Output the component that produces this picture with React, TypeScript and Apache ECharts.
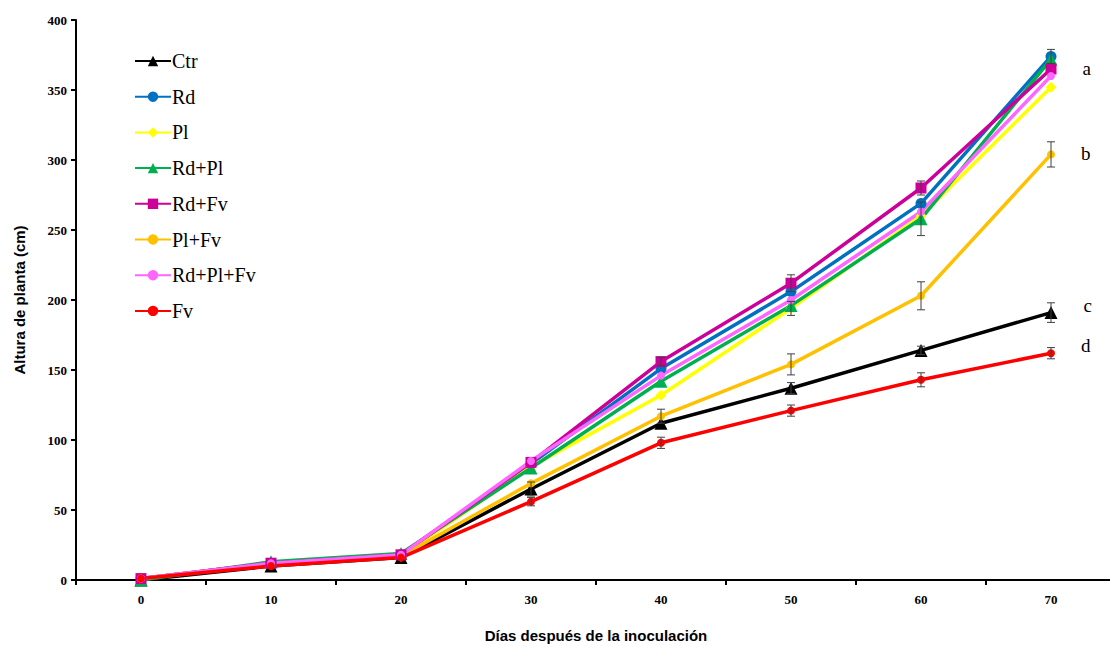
import React, { useEffect, useRef } from "react";
import * as echarts from "echarts";

const days = ["0", "10", "20", "30", "40", "50", "60", "70"];
const seriesNames = ["Ctr", "Rd", "Pl", "Rd+Pl", "Rd+Fv", "Pl+Fv", "Rd+Pl+Fv", "Fv"];

const ctr = [0, 10, 16, 65, 112, 137, 164, 191];
const rd = [1, 12, 18, 83, 151, 206, 269, 374];
const pl = [1, 12, 17, 81, 132, 194, 260, 352];
const rdPl = [0, 13, 19, 80, 142, 196, 258, 372];
const rdFv = [1, 12, 18, 84, 156, 212, 280, 365];
const plFv = [1, 11, 17, 69, 117, 154, 203, 304];
const rdPlFv = [1, 12, 18, 85, 146, 200, 263, 360];
const fv = [1, 10, 16, 56, 98, 121, 143, 162];

const errCtr = [0, 0, 0, 5, 0, 4, 3, 7];
const errRd = [0, 0, 0, 0, 0, 0, 0, 5];
const errPl = [0, 0, 0, 0, 0, 5, 0, 0];
const errRdPl = [0, 0, 0, 0, 0, 0, 12, 0];
const errRdFv = [0, 0, 0, 0, 3, 6, 5, 0];
const errPlFv = [0, 0, 0, 0, 5, 7.5, 10, 9];
const errRdPlFv = [0, 0, 0, 0, 0, 0, 0, 0];
const errFv = [0, 0, 0, 3, 4, 4, 5, 4];

const letters: Record<string, string> = { "Rd+Fv": "a", "Pl+Fv": "b", Ctr: "c", Fv: "d" };
const letterOffsets: Record<string, number[]> = { "Rd+Fv": [0, -1], "Pl+Fv": [0, -1], Ctr: [0, -7], Fv: [0, -8] };

const values = [ctr, rd, pl, rdPl, rdFv, plFv, rdPlFv, fv];
const errors = [errCtr, errRd, errPl, errRdPl, errRdFv, errPlFv, errRdPlFv, errFv];
const colors = ["#000000", "#0070C0", "#FFFF00", "#00B050", "#CC0099", "#FFC000", "#FF66FF", "#FF0000"];
const symbols = ["triangle", "circle", "diamond", "triangle", "rect", "circle", "circle", "circle"];
const symbolSizes = [13, 11, 11, 13, 11, 8, 8, 8];

export default function App() {
  const ref = useRef<HTMLDivElement>(null);
  useEffect(() => {
    if (!ref.current) return;
    const chart = echarts.init(ref.current, null, { renderer: "svg" });

    const errData: number[][] = [];
    values.forEach((vals, si) => {
      vals.forEach((v, i) => {
        const e = errors[si][i];
        if (e > 0) errData.push([i, v - e, v + e]);
      });
    });

    const lineSeries = seriesNames.map((name, si) => ({
      name,
      type: "line",
      data: values[si].map((v, i) => {
        if (i === values[si].length - 1 && letters[name]) {
          return {
            value: v,
            label: {
              show: true,
              formatter: letters[name],
              position: "right",
              distance: 26,
              offset: letterOffsets[name],
              fontFamily: "Liberation Serif",
              fontSize: 19,
              color: "#000",
            },
          };
        }
        return v;
      }),
      symbol: symbols[si],
      symbolSize: symbolSizes[si],
      lineStyle: { width: 3.5, color: colors[si] },
      itemStyle: { color: colors[si] },
      z: 3,
    }));

    const errSeries = {
      name: "err",
      type: "custom",
      z: 4,
      data: errData,
      renderItem: (params: any, api: any) => {
        const x = api.value(0);
        const lo = api.coord([x, api.value(1)]);
        const hi = api.coord([x, api.value(2)]);
        const cap = 4;
        const style = { stroke: "#404040", lineWidth: 1 };
        return {
          type: "group",
          children: [
            { type: "line", shape: { x1: lo[0], y1: lo[1], x2: hi[0], y2: hi[1] }, style },
            { type: "line", shape: { x1: lo[0] - cap, y1: lo[1], x2: lo[0] + cap, y2: lo[1] }, style },
            { type: "line", shape: { x1: hi[0] - cap, y1: hi[1], x2: hi[0] + cap, y2: hi[1] }, style },
          ],
        };
      },
    };

    chart.setOption({
      animation: false,
      backgroundColor: "#fff",
      grid: { left: 76, top: 20, width: 1040, height: 560, outerBoundsMode: "none", containLabel: false },
      legend: {
        data: seriesNames,
        orient: "vertical",
        left: 129,
        top: 46,
        itemWidth: 36,
        itemHeight: 13,
        itemGap: 15.7,
        textStyle: { fontFamily: "Liberation Serif", fontSize: 20, color: "#000", padding: [0, 0, 0, -4] },
      },
      xAxis: {
        type: "category",
        data: days,
        boundaryGap: true,
        name: "Días después de la inoculación",
        nameLocation: "middle",
        nameGap: 48,
        nameTextStyle: { fontFamily: "Liberation Sans", fontWeight: "bold", fontSize: 15, color: "#000" },
        axisLine: { lineStyle: { color: "#000", width: 2 } },
        axisTick: { show: true, length: 5, lineStyle: { color: "#000", width: 2 } },
        axisLabel: { fontFamily: "Liberation Serif", fontWeight: "bold", fontSize: 13, color: "#000", margin: 13 },
      },
      yAxis: {
        type: "value",
        min: 0,
        max: 400,
        interval: 50,
        name: "Altura de planta (cm)",
        nameLocation: "middle",
        nameGap: 49,
        nameTextStyle: { fontFamily: "Liberation Sans", fontWeight: "bold", fontSize: 15, color: "#000" },
        splitLine: { show: false },
        axisLine: { show: true, lineStyle: { color: "#000", width: 2 } },
        axisTick: { show: true, length: 5, lineStyle: { color: "#000", width: 2 } },
        axisLabel: { fontFamily: "Liberation Serif", fontWeight: "bold", fontSize: 13, color: "#000", margin: 9 },
      },
      series: [...lineSeries, errSeries],
    });
    return () => chart.dispose();
  }, []);
  return (
    <div
      ref={ref}
      style={{ position: "fixed", left: 0, top: 0, width: 1110, height: 646, background: "#fff" }}
    />
  );
}
